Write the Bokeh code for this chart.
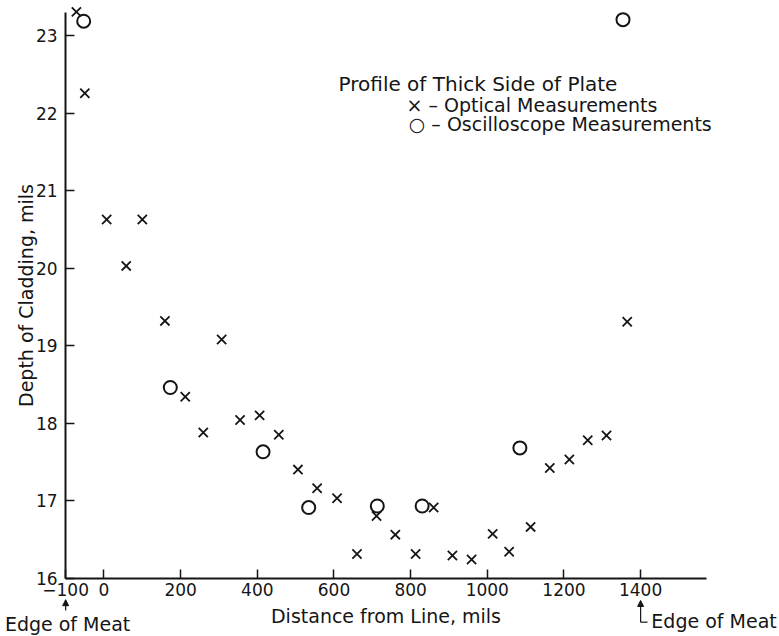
from bokeh.plotting import figure
from bokeh.models import Range1d, FixedTicker, Label, Arrow, NormalHead
from bokeh.embed import file_html
from bokeh.resources import INLINE

# Optical measurements (x marks)
optical_x = [-72, -50, 7, 58, 100, 159, 212, 259, 307, 355, 406, 456, 506, 556, 608,
             660, 711, 760, 813, 860, 909, 959, 1014, 1057, 1113, 1163, 1214, 1262, 1311, 1365]
optical_y = [23.31, 22.26, 20.63, 20.03, 20.63, 19.32, 18.34, 17.88, 19.08, 18.04, 18.10, 17.85, 17.40, 17.16, 17.03,
             16.31, 16.80, 16.56, 16.31, 16.91, 16.29, 16.24, 16.57, 16.34, 16.66, 17.42, 17.53, 17.78, 17.84, 19.31]

# Oscilloscope measurements (circles)
scope_x = [-53, 173, 415, 534, 713, 830, 1085, 1354]
scope_y = [23.19, 18.46, 17.63, 16.91, 16.93, 16.93, 17.68, 23.21]

x_ticks = [-100, 0, 200, 400, 600, 800, 1000, 1200, 1400]
y_ticks = [16, 17, 18, 19, 20, 21, 22, 23]

FONT = "DejaVu Sans"
INK = "#151515"

# the frame covers the whole canvas; axes are pinned at x=-100 / y=16
p = figure(width=779, height=636, output_backend="svg", toolbar_location=None,
           x_range=Range1d(-270.0, 1762.3), y_range=Range1d(15.245, 23.457),
           min_border=0)
p.outline_line_color = None
p.grid.visible = False
p.background_fill_color = "white"
p.border_fill_color = "white"

p.scatter(optical_x, optical_y, marker="x", size=13, line_color=INK, line_width=1.8)
p.scatter(scope_x, scope_y, marker="circle", size=13, fill_color=None, line_color=INK, line_width=2)

for ax in (p.xaxis[0], p.yaxis[0]):
    ax.axis_line_color = INK
    ax.axis_line_width = 2
    ax.major_tick_line_color = INK
    ax.major_tick_line_width = 1.5
    ax.major_tick_in = 9
    ax.major_tick_out = 0
    ax.minor_tick_line_color = None
    ax.major_label_text_font = FONT
    ax.major_label_text_font_size = "17px"
    ax.major_label_text_color = INK
    ax.axis_label_text_font = FONT
    ax.axis_label_text_font_size = "19px"
    ax.axis_label_text_font_style = "normal"
    ax.axis_label_text_color = INK

p.xaxis.fixed_location = 16
p.yaxis.fixed_location = -100
p.xaxis.bounds = (-100, 1571)
p.yaxis.bounds = (16, 23.3)
p.xaxis.ticker = FixedTicker(ticks=x_ticks)
p.yaxis.ticker = FixedTicker(ticks=y_ticks)
p.xaxis.major_label_standoff = 5
p.yaxis.major_label_standoff = 8
p.xaxis.axis_label = "Distance from Line, mils"
p.yaxis.axis_label = "Depth of Cladding, mils"
p.xaxis.axis_label_standoff = 5
p.yaxis.axis_label_standoff = -4

def lab(x, y, text, align="left", size="19px"):
    p.add_layout(Label(x=x, y=y, text=text, text_font=FONT, text_font_size=size,
                       text_color=INK, text_align=align, text_baseline="middle"))

lab(612, 22.38, "Profile of Thick Side of Plate", size="20px")
lab(789, 22.11, "\u00d7 \u2013 Optical Measurements")
lab(795, 21.86, "\u25cb \u2013 Oscilloscope Measurements")

# Edge of meat markers
lab(-95, 15.41, "Edge of Meat", align="center")
p.add_layout(Arrow(x_start=-100, y_start=15.58, x_end=-100, y_end=15.72,
                   line_color=INK, line_width=1.2,
                   end=NormalHead(size=6, fill_color=INK, line_color=INK)))
p.add_layout(Arrow(x_start=1400, y_start=15.43, x_end=1400, y_end=15.71,
                   line_color=INK, line_width=1.2,
                   end=NormalHead(size=6, fill_color=INK, line_color=INK)))
p.add_layout(Arrow(x_start=1400, y_start=15.43, x_end=1418, y_end=15.43,
                   line_color=INK, line_width=1.2, end=None))
lab(1428, 15.45, "Edge of Meat")

open("out.html", "w").write(file_html(p, INLINE))
